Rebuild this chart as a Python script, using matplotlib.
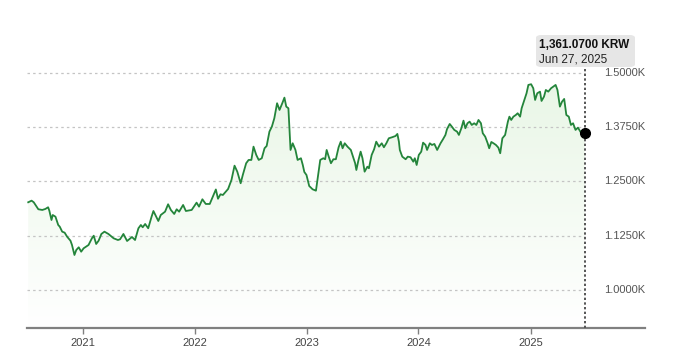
import matplotlib
matplotlib.use("Agg")
import matplotlib.pyplot as plt
import matplotlib.dates as mdates
import numpy as np
import pandas as pd
from matplotlib.patches import Polygon, FancyBboxPatch

plt.rcParams['font.family'] = ['Liberation Sans', 'DejaVu Sans']

dates = [
    "2020-07-05", "2020-07-16", "2020-07-23", "2020-08-07", "2020-08-20", "2020-08-30", "2020-09-08", "2020-09-12",
    "2020-09-19", "2020-09-23", "2020-10-02", "2020-10-11", "2020-10-16", "2020-10-24", "2020-11-01", "2020-11-09",
    "2020-11-20", "2020-11-25", "2020-12-03", "2020-12-09", "2020-12-17", "2020-12-25", "2021-01-02", "2021-01-18",
    "2021-01-29", "2021-02-04", "2021-02-12", "2021-02-20", "2021-03-01", "2021-03-11", "2021-03-24", "2021-04-10",
    "2021-04-24", "2021-05-01", "2021-05-12", "2021-05-24", "2021-06-09", "2021-06-19", "2021-06-30", "2021-07-08",
    "2021-07-14", "2021-07-22", "2021-08-01", "2021-08-12", "2021-08-18", "2021-08-26", "2021-09-03", "2021-09-11",
    "2021-09-25", "2021-10-05", "2021-10-14", "2021-10-25", "2021-11-02", "2021-11-10", "2021-11-23", "2021-12-02",
    "2021-12-21", "2022-01-06", "2022-01-14", "2022-01-25", "2022-02-05", "2022-02-18", "2022-03-01", "2022-03-10",
    "2022-03-17", "2022-03-25", "2022-04-02", "2022-04-19", "2022-04-30", "2022-05-10", "2022-05-19", "2022-05-30",
    "2022-06-06", "2022-06-17", "2022-06-25", "2022-07-04", "2022-07-11", "2022-07-20", "2022-07-28", "2022-08-07",
    "2022-08-16", "2022-08-23", "2022-09-01", "2022-09-09", "2022-09-17", "2022-09-26", "2022-10-04", "2022-10-13",
    "2022-10-20", "2022-10-26", "2022-11-02", "2022-11-09", "2022-11-16", "2022-11-25", "2022-12-02", "2022-12-13",
    "2022-12-19", "2022-12-24", "2022-12-31", "2023-01-09", "2023-01-20", "2023-01-31", "2023-02-05", "2023-02-14",
    "2023-02-24", "2023-03-02", "2023-03-07", "2023-03-13", "2023-03-21", "2023-03-29", "2023-04-06", "2023-04-15",
    "2023-04-22", "2023-04-28", "2023-05-05", "2023-05-14", "2023-05-25", "2023-06-01", "2023-06-08", "2023-06-12",
    "2023-06-19", "2023-06-26", "2023-07-02", "2023-07-09", "2023-07-18", "2023-07-23", "2023-08-01", "2023-08-09",
    "2023-08-16", "2023-08-25", "2023-09-03", "2023-09-10", "2023-09-18", "2023-09-26", "2023-10-07", "2023-10-18",
    "2023-10-24", "2023-10-29", "2023-11-01", "2023-11-09", "2023-11-20", "2023-11-27", "2023-12-06", "2023-12-15",
    "2023-12-20", "2023-12-26", "2024-01-02", "2024-01-10", "2024-01-16", "2024-01-24", "2024-01-29", "2024-02-07",
    "2024-02-14", "2024-02-22", "2024-03-02", "2024-03-13", "2024-03-21", "2024-03-29", "2024-04-03", "2024-04-12",
    "2024-04-19", "2024-04-27", "2024-05-06", "2024-05-12", "2024-05-20", "2024-05-27", "2024-06-02", "2024-06-09",
    "2024-06-16", "2024-06-23", "2024-07-01", "2024-07-08", "2024-07-15", "2024-07-23", "2024-07-29", "2024-08-06",
    "2024-08-14", "2024-08-19", "2024-08-26", "2024-09-02", "2024-09-10", "2024-09-18", "2024-09-24", "2024-10-01",
    "2024-10-10", "2024-10-19", "2024-10-24", "2024-10-30", "2024-11-06", "2024-11-14", "2024-11-20", "2024-11-28",
    "2024-12-03", "2024-12-12", "2024-12-19", "2024-12-25", "2025-01-03", "2025-01-10", "2025-01-16", "2025-01-23",
    "2025-02-01", "2025-02-06", "2025-02-14", "2025-02-20", "2025-02-28", "2025-03-09", "2025-03-16", "2025-03-24",
    "2025-03-30", "2025-04-07", "2025-04-14", "2025-04-21", "2025-04-28", "2025-05-06", "2025-05-13", "2025-05-20",
    "2025-05-28", "2025-06-05", "2025-06-14", "2025-06-27",
]
krw = [
    1202.1, 1205.8, 1202.1, 1186.0, 1184.4, 1186.7, 1190.6, 1182.7,
    1161.3, 1172.8, 1168.9, 1149.8, 1145.9, 1134.4, 1132.1, 1122.8,
    1113.6, 1103.7, 1080.7, 1092.2, 1098.4, 1088.3, 1096.1, 1103.7,
    1119.1, 1125.1, 1106.0, 1113.6, 1129.1, 1134.4, 1129.1, 1119.1,
    1115.2, 1116.8, 1129.1, 1112.9, 1122.1, 1115.2, 1142.2, 1149.8,
    1144.5, 1152.1, 1142.2, 1168.9, 1182.0, 1170.5, 1159.0, 1172.8,
    1180.4, 1197.5, 1184.4, 1175.1, 1186.0, 1180.4, 1195.9, 1182.0,
    1184.4, 1201.2, 1192.0, 1209.0, 1198.2, 1198.2, 1216.6, 1231.6,
    1210.2, 1220.5, 1218.9, 1232.7, 1253.5, 1286.4, 1272.6, 1245.9,
    1265.0, 1292.0, 1299.6, 1299.6, 1330.2, 1311.1, 1299.6, 1303.5,
    1326.5, 1331.8, 1364.8, 1376.3, 1395.6, 1430.2, 1414.8, 1430.2,
    1443.1, 1422.4, 1418.7, 1322.6, 1338.0, 1322.6, 1299.6, 1303.5,
    1288.0, 1271.9, 1265.0, 1239.6, 1232.0, 1228.8, 1253.5, 1299.6,
    1303.5, 1301.2, 1322.6, 1308.8, 1292.0, 1301.2, 1301.2, 1328.8,
    1341.7, 1326.5, 1338.0, 1330.2, 1322.6, 1307.2, 1292.0, 1276.5,
    1299.6, 1318.7, 1303.5, 1272.6, 1284.1, 1280.4, 1311.1, 1324.2,
    1341.7, 1330.2, 1338.0, 1328.8, 1338.0, 1349.5, 1351.9, 1354.8,
    1359.5, 1341.7, 1322.6, 1307.2, 1301.2, 1307.2, 1305.8, 1295.6,
    1303.5, 1288.0, 1311.1, 1318.7, 1339.4, 1334.1, 1322.6, 1338.0,
    1334.1, 1336.4, 1322.6, 1338.0, 1347.2, 1357.2, 1370.3, 1382.5,
    1376.3, 1368.7, 1364.8, 1357.2, 1372.6, 1390.1, 1372.6, 1384.1,
    1387.8, 1380.2, 1384.1, 1380.2, 1391.7, 1384.1, 1361.1, 1353.2,
    1338.0, 1326.5, 1341.0, 1338.0, 1334.1, 1327.9, 1315.0, 1349.5,
    1357.2, 1387.8, 1399.3, 1391.7, 1399.3, 1403.2, 1407.1, 1399.3,
    1418.7, 1437.8, 1453.2, 1472.4, 1474.0, 1464.7, 1437.8, 1453.2,
    1456.9, 1435.5, 1445.4, 1460.8, 1456.9, 1464.7, 1468.4, 1472.4,
    1460.8, 1422.4, 1433.9, 1440.1, 1403.2, 1399.3, 1380.2, 1384.1,
    1368.7, 1374.0, 1363.4, 1361.07,
]
y_ticks = [1000, 1125, 1250, 1375, 1500]
y_tick_labels = ["1.0000K", "1.1250K", "1.2500K", "1.3750K", "1.5000K"]
x_tick_years = ["2021", "2022", "2023", "2024", "2025"]
last_value_label = "1,361.0700 KRW"
last_date_label = "Jun 27, 2025"

x = pd.to_datetime(dates)
xn = mdates.date2num(x)
y = np.array(krw)

W, H = 675, 362
fig = plt.figure(figsize=(W / 100, H / 100), dpi=100)
ax = fig.add_axes([27 / W, (H - 328) / H, (645 - 27) / W, 328 / H])

xmin = mdates.date2num(pd.Timestamp("2020-07-01"))
xmax = mdates.date2num(pd.Timestamp("2026-01-10"))
ymin, ymax = 912.5, 1668.0
ax.set_xlim(xmin, xmax)
ax.set_ylim(ymin, ymax)

# gradient fill under the line
grad = np.linspace(0, 1, 256).reshape(-1, 1)
top_c = np.array([0.915, 0.967, 0.905])
bot_c = np.array([1.0, 1.0, 1.0])
img = top_c[None, None, :] * (1 - grad[:, :, None]) + bot_c[None, None, :] * grad[:, :, None]
top_val = y.max()
im = ax.imshow(img, extent=[xn[0], xn[-1], ymin, top_val], origin='upper',
               aspect='auto', zorder=1)
verts = np.column_stack([np.concatenate([xn, [xn[-1], xn[0]]]),
                         np.concatenate([y, [ymin, ymin]])])
poly = Polygon(verts, closed=True, facecolor='none', edgecolor='none')
ax.add_patch(poly)
im.set_clip_path(poly)

# grid lines and right-side value labels
for t, lab in zip(y_ticks, y_tick_labels):
    ax.plot([xmin, xn[-1]], [t, t], color='#c4c4c4', lw=0.9, ls=(0, (2, 2.5)), zorder=2)
    ax.text(1.0, t, lab, transform=ax.get_yaxis_transform(),
            ha='right', va='center', fontsize=8, color='#555555')

# line
ax.plot(xn, y, color='#24853b', lw=1.3, zorder=4, solid_joinstyle='round')

# cursor line and end dot
ax.plot([xn[-1], xn[-1]], [ymin, 1555], color='#555555', lw=1.4, ls=(0, (1.2, 1.2)), zorder=3)
ax.plot([xn[-1]], [y[-1]], 'o', color='black', ms=7, zorder=5)

# tooltip
fig.patches.append(FancyBboxPatch(
    (536 / W, (H - 67) / H), 99 / W, 32 / H,
    boxstyle="round,pad=0,rounding_size=0.008", transform=fig.transFigure,
    facecolor='#e6e6e6', edgecolor='none', zorder=10))
fig.text(539 / W, (H - 45) / H, last_value_label, fontsize=8.5, fontweight='bold',
         color='#111111', ha='left', va='center', zorder=11)
fig.text(539 / W, (H - 59) / H, last_date_label, fontsize=8.5,
         color='#222222', ha='left', va='center', zorder=11)

# axes styling
for s in ['top', 'left', 'right']:
    ax.spines[s].set_visible(False)
ax.spines['bottom'].set_color('#808080')
ax.spines['bottom'].set_linewidth(1.6)
ax.set_yticks([])
ticks = [mdates.date2num(pd.Timestamp(f"{yr}-01-01")) for yr in x_tick_years]
ax.set_xticks(ticks)
ax.set_xticklabels(x_tick_years)
ax.tick_params(axis='x', length=4, width=1, color='#808080', labelsize=8,
               labelcolor='#444444', pad=3)

fig.savefig("out.png", dpi=100)
